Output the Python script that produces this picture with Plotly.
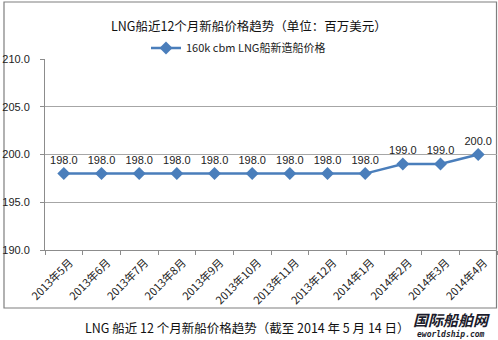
import plotly.graph_objects as go

# Monthly price of a 160k cbm LNG carrier newbuild (million USD)
months = ["2013年5月", "2013年6月", "2013年7月", "2013年8月", "2013年9月", "2013年10月",
          "2013年11月", "2013年12月", "2014年1月", "2014年2月", "2014年3月", "2014年4月"]
prices = [198.0, 198.0, 198.0, 198.0, 198.0, 198.0, 198.0, 198.0, 198.0, 199.0, 199.0, 200.0]
series_name = "160k cbm LNG船新造船价格"
chart_title = "LNG船近12个月新船价格趋势（单位：百万美元）"
caption = "LNG 船近 12 个月新船价格趋势（截至 2014 年 5 月 14 日）"
y_ticks = [190, 195, 200, 205, 210]

W, H = 498, 340
L, R, T, B = 45, 1, 59, 90
PW, PH = W - L - R, H - T - B

def px_x(x):
    return (x - L) / PW

def px_y(y):
    return (H - B - y) / PH

CJK = "Noto Sans CJK SC, Liberation Sans, Arial, sans-serif"
BLUE = "#4A7EBB"

fig = go.Figure()
fig.add_trace(go.Scatter(
    x=months, y=prices, name=series_name,
    mode="lines+markers+text",
    line=dict(color=BLUE, width=2.5),
    marker=dict(symbol="diamond", size=10, color=BLUE),
    text=[f"{v:.1f}" for v in prices],
    textposition="top center",
    textfont=dict(family="Liberation Sans, Arial, sans-serif", size=11, color="#222"),
    cliponaxis=False,
))

fig.update_layout(
    width=W, height=H,
    margin=dict(l=L, r=R, t=T, b=B),
    paper_bgcolor="white", plot_bgcolor="white",
    showlegend=True,
    legend=dict(orientation="h", x=px_x(146), y=px_y(48), xanchor="left", yanchor="middle",
                font=dict(family=CJK, size=11, color="#222"),
                itemwidth=30, bgcolor="rgba(0,0,0,0)"),
    xaxis=dict(
        type="category", tickangle=-45,
        tickfont=dict(family=CJK, size=11, color="#222"),
        showgrid=False, showline=True, linecolor="#8c8c8c", linewidth=1,
        ticks="outside", ticklen=4, tickcolor="#8c8c8c",
        tickson="boundaries", range=[-0.5, 11.5],
        ticklabelshift=6, ticklabelstandoff=1,
    ),
    yaxis=dict(
        range=[190, 210], tickvals=y_ticks,
        ticktext=[f"{v:.1f}" for v in y_ticks],
        tickfont=dict(family="Liberation Sans, Arial, sans-serif", size=11, color="#222"),
        showgrid=True, gridcolor="#a6a6a6", gridwidth=1,
        showline=True, linecolor="#8c8c8c", linewidth=1,
        ticks="outside", ticklen=4, tickcolor="#8c8c8c",
        zeroline=False, ticklabelstandoff=8,
    ),
    shapes=[
        dict(type="rect", xref="paper", yref="paper",
             x0=px_x(4), x1=px_x(496.5), y0=px_y(308), y1=px_y(2),
             line=dict(color="#7f7f7f", width=1.2), fillcolor="rgba(0,0,0,0)", layer="below"),
    ],
    annotations=[
        dict(text=chart_title, xref="paper", yref="paper", x=px_x(249), y=px_y(25.5),
             showarrow=False, xanchor="center", yanchor="middle",
             font=dict(family=CJK, size=12.5, color="#111")),
        dict(text=caption, xref="paper", yref="paper", x=px_x(247), y=px_y(327),
             showarrow=False, xanchor="center", yanchor="middle",
             font=dict(family=CJK, size=12.5, color="#111")),
        dict(text="<b><i>国际船舶网</i></b>", xref="paper", yref="paper", x=px_x(451), y=px_y(319),
             showarrow=False, xanchor="center", yanchor="middle",
             font=dict(family=CJK, size=15, color="#1b1b2b")),
        dict(text="<b><i>eworldship.com</i></b>", xref="paper", yref="paper", x=px_x(451), y=px_y(334),
             showarrow=False, xanchor="center", yanchor="middle",
             font=dict(family="DejaVu Sans Mono, monospace", size=8, color="#1b1b2b")),
    ],
)

fig.write_html("out.html")
